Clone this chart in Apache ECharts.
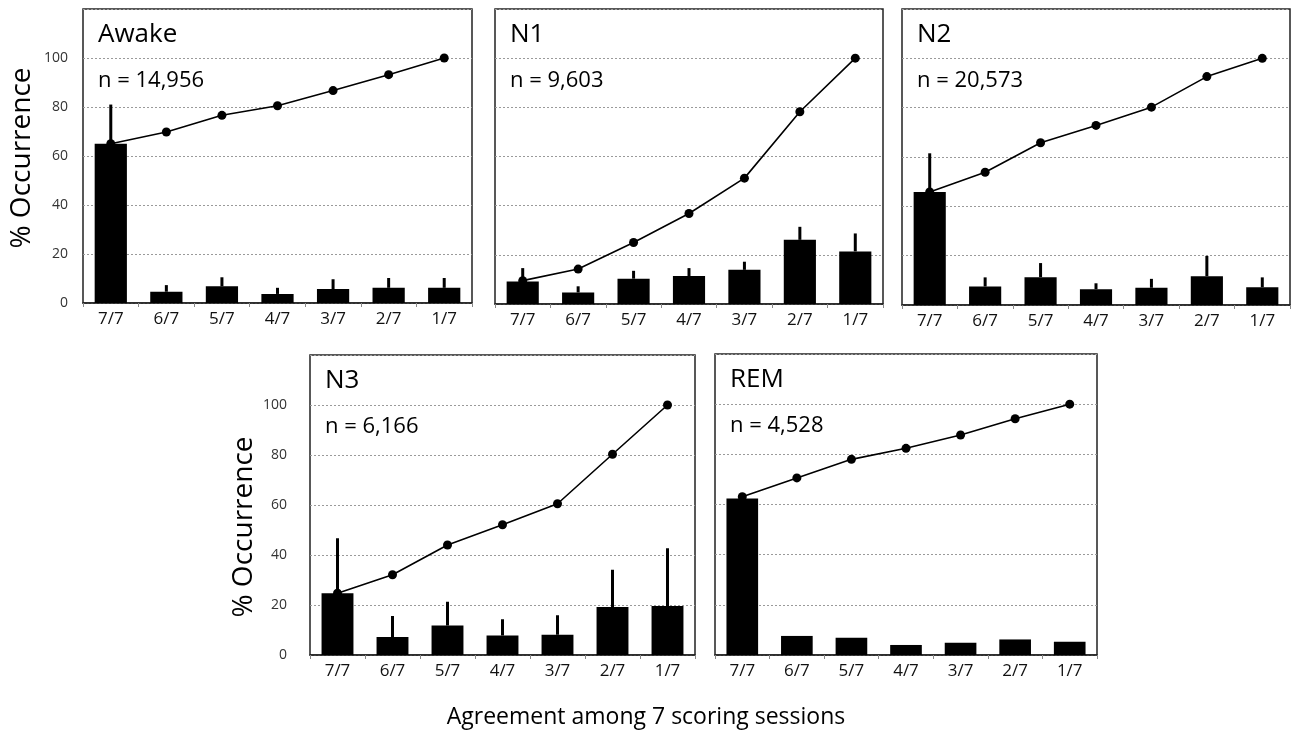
<!DOCTYPE html>
<html>
<head>
<meta charset="utf-8">
<script src="https://cdn.jsdelivr.net/npm/echarts@6/dist/echarts.min.js"></script>
<style>
  html, body { margin: 0; padding: 0; background: #fff; }
  #chart { width: 1292px; height: 732px; }
</style>
</head>
<body>
<div id="chart"></div>
<script>
// categories shared by all panels
const categories = ['7/7', '6/7', '5/7', '4/7', '3/7', '2/7', '1/7'];

// Awake
const awakeBar = [65, 4.6, 6.8, 3.7, 5.7, 6.2, 6.2];
const awakeErr = [81, 7.3, 10.5, 6.2, 9.7, 10.2, 10.2];
const awakeLine = [65, 69.8, 76.6, 80.5, 86.7, 93.2, 100];

// N1
const n1Bar = [9.2, 4.7, 10.3, 11.4, 13.9, 26.1, 21.4];
const n1Err = [14.6, 7.2, 13.5, 14.6, 17.2, 31.4, 28.7];
const n1Line = [9.5, 14.2, 25.0, 36.8, 51.2, 78.2, 100];

// N2
const n2Bar = [45.8, 7.5, 11.3, 6.4, 7.0, 11.7, 7.2];
const n2Err = [61.5, 11.2, 17.0, 8.8, 10.6, 19.9, 11.2];
const n2Line = [45.8, 53.8, 65.8, 72.8, 80.2, 92.6, 100];

// N3
const n3Bar = [24.7, 7.2, 11.8, 7.8, 8.1, 19.2, 19.6];
const n3Err = [46.7, 15.6, 21.3, 14.3, 15.9, 34.1, 42.7];
const n3Line = [24.7, 32.1, 44.0, 52.1, 60.5, 80.3, 100];

// REM (no visible error bars)
const remBar = [62.4, 7.6, 6.9, 4.0, 4.9, 6.2, 5.3];
const remErr = null;
const remLine = [63.1, 70.6, 78.0, 82.4, 87.7, 94.2, 100];

const panels = [
  { name: 'Awake', n: 'n = 14,956', bar: awakeBar, err: awakeErr, line: awakeLine,
    grid: { left: 83, top: 9, width: 389, height: 294 }, yLabels: true, labelMargin: 15 },
  { name: 'N1', n: 'n = 9,603', bar: n1Bar, err: n1Err, line: n1Line,
    grid: { left: 495, top: 9, width: 388, height: 295 }, yLabels: false },
  { name: 'N2', n: 'n = 20,573', bar: n2Bar, err: n2Err, line: n2Line,
    grid: { left: 902, top: 9, width: 388, height: 296 }, yLabels: false },
  { name: 'N3', n: 'n = 6,166', bar: n3Bar, err: n3Err, line: n3Line,
    grid: { left: 310, top: 355, width: 385, height: 300 }, yLabels: true, labelMargin: 23 },
  { name: 'REM', n: 'n = 4,528', bar: remBar, err: remErr, line: remLine,
    grid: { left: 715, top: 354, width: 382, height: 301 }, yLabels: false }
];

const FONT = 'Open Sans';
const chart = echarts.init(document.getElementById('chart'));

const grids = [], xAxes = [], yAxes = [], series = [], graphics = [];

panels.forEach((p, i) => {
  grids.push(Object.assign({
    show: true, borderColor: '#222', borderWidth: 1.5, backgroundColor: '#fff'
  }, p.grid));

  xAxes.push({
    type: 'category', gridIndex: i, data: categories,
    axisLine: { show: true, lineStyle: { color: '#222', width: 1.5 } },
    axisTick: { show: true, length: 4, lineStyle: { color: '#888' } },
    axisLabel: { color: '#111', fontSize: 17, fontFamily: FONT, margin: 8 }
  });

  yAxes.push({
    type: 'value', gridIndex: i, min: 0, max: 120, interval: 20,
    axisLine: { show: false }, axisTick: { show: false },
    axisLabel: {
      show: p.yLabels, color: '#333', fontSize: 14, fontFamily: FONT,
      margin: p.labelMargin || 8,
      formatter: v => (v > 100 ? '' : v)
    },
    splitLine: { show: true, lineStyle: { color: '#9a9a9a', type: [2, 2], width: 1 } }
  });

  series.push({
    type: 'bar', xAxisIndex: i, yAxisIndex: i, data: p.bar,
    barWidth: '58%', itemStyle: { color: '#000' }, z: 2
  });

  if (p.err) {
    series.push({
      type: 'custom', xAxisIndex: i, yAxisIndex: i,
      data: p.err.map((e, k) => [k, p.bar[k], e]),
      encode: { x: 0, y: [1, 2] },
      renderItem: (params, api) => {
        const a = api.coord([api.value(0), api.value(1)]);
        const b = api.coord([api.value(0), api.value(2)]);
        return {
          type: 'line',
          shape: { x1: a[0], y1: a[1], x2: b[0], y2: b[1] },
          style: { stroke: '#000', lineWidth: 3 }
        };
      },
      z: 3
    });
  }

  series.push({
    type: 'line', xAxisIndex: i, yAxisIndex: i, data: p.line,
    symbol: 'circle', symbolSize: 9,
    lineStyle: { color: '#000', width: 1.6 },
    itemStyle: { color: '#000' }, z: 4
  });

  // panel label and n
  graphics.push({
    type: 'text', left: p.grid.left + 15, top: p.grid.top + 13,
    style: { text: p.name, font: '26px "' + FONT + '"', fill: '#000' }
  });
  graphics.push({
    type: 'text', left: p.grid.left + 15, top: p.grid.top + 61,
    style: { text: p.n, font: '22px "' + FONT + '"', fill: '#000' }
  });
});

// y-axis titles and x-axis title
graphics.push({
  type: 'text', x: 22, y: 158, rotation: Math.PI / 2,
  style: { text: '% Occurrence', font: '28px "' + FONT + '"', fill: '#000',
           align: 'center', verticalAlign: 'middle' }
});
graphics.push({
  type: 'text', x: 244, y: 527, rotation: Math.PI / 2,
  style: { text: '% Occurrence', font: '28px "' + FONT + '"', fill: '#000',
           align: 'center', verticalAlign: 'middle' }
});
graphics.push({
  type: 'text', x: 646, y: 717,
  style: { text: 'Agreement among 7 scoring sessions', font: '23px "' + FONT + '"', fill: '#000',
           align: 'center', verticalAlign: 'middle' }
});

chart.setOption({
  animation: false,
  backgroundColor: '#fff',
  grid: grids,
  xAxis: xAxes,
  yAxis: yAxes,
  series: series,
  graphic: graphics
});
</script>
</body>
</html>
